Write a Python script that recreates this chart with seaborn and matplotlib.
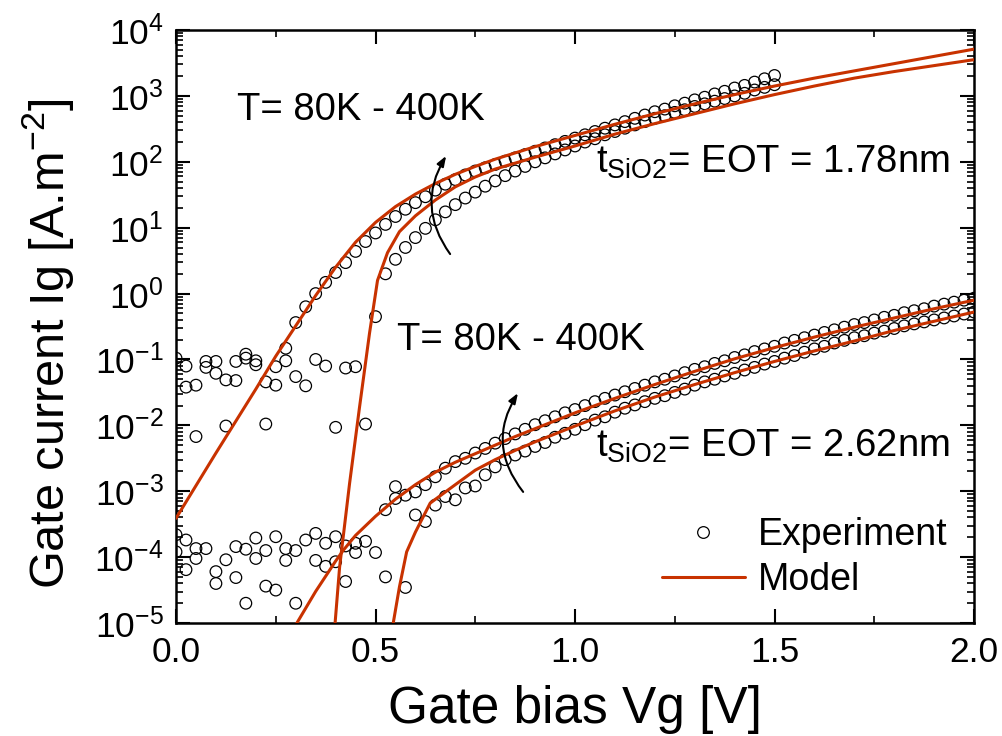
import numpy as np
import pandas as pd
import matplotlib
matplotlib.use("Agg")
import matplotlib.pyplot as plt
import seaborn as sns
from matplotlib.lines import Line2D
from matplotlib.ticker import LogLocator, LogFormatterMathtext, MultipleLocator, NullFormatter

# ---- data (log10 of Ig in A/m^2) ----
# experiment, tSiO2 = 1.78 nm
vg_hot_178 = np.linspace(0.275, 1.5, 50)
lg_hot_178 = [-0.83, -0.44, -0.20, 0.00, 0.17, 0.32, 0.47, 0.64, 0.79, 0.92,
              1.05, 1.17, 1.28, 1.38, 1.47, 1.57, 1.66, 1.73, 1.80, 1.86,
              1.91, 1.96, 2.01, 2.06, 2.11, 2.16, 2.21, 2.26, 2.31, 2.36,
              2.41, 2.46, 2.51, 2.56, 2.61, 2.66, 2.71, 2.76, 2.80, 2.85,
              2.89, 2.94, 2.98, 3.03, 3.07, 3.12, 3.16, 3.21, 3.26, 3.31]
vg_cold_178 = np.linspace(0.5, 1.5, 41)
lg_cold_178 = [-0.35, 0.30, 0.52, 0.70, 0.85, 0.99, 1.12, 1.24, 1.35, 1.45,
               1.54, 1.63, 1.71, 1.79, 1.86, 1.93, 2.00, 2.06, 2.12, 2.18,
               2.24, 2.30, 2.35, 2.41, 2.46, 2.51, 2.56, 2.61, 2.66, 2.70,
               2.75, 2.79, 2.84, 2.88, 2.92, 2.96, 3.00, 3.04, 3.09, 3.13, 3.17]
# noisy low-bias points, 1.78 nm
vg_noise_178 = [0.0, 0.025, 0.025, 0.05, 0.05, 0.075, 0.075, 0.1, 0.1, 0.125, 0.125, 0.15,
                0.15, 0.175, 0.175, 0.2, 0.2, 0.225, 0.225, 0.25, 0.25, 0.275, 0.3, 0.325,
                0.35, 0.375, 0.425, 0.45, 0.4, 0.475]
lg_noise_178 = [-0.98, -1.10, -1.42, -1.39, -2.17, -1.03, -1.12, -1.03, -1.21, -1.31, -2.01, -1.03,
                -1.32, -0.92, -0.98, -1.02, -1.08, -1.34, -1.98, -1.11, -1.39, -1.02, -1.26, -1.40,
                -1.00, -1.10, -1.13, -1.11, -2.03, -1.98]

# experiment, tSiO2 = 2.62 nm
vg_hot_262 = np.linspace(0.525, 2.0, 60)
lg_hot_262 = [-3.28, -3.11, -3.06, -3.01, -2.90, -2.78, -2.65, -2.55, -2.50, -2.42,
              -2.35, -2.27, -2.20, -2.13, -2.06, -1.99, -1.93, -1.87, -1.81, -1.76,
              -1.70, -1.64, -1.59, -1.54, -1.49, -1.44, -1.39, -1.34, -1.30, -1.25,
              -1.20, -1.15, -1.11, -1.06, -1.02, -0.97, -0.93, -0.88, -0.84, -0.80,
              -0.75, -0.71, -0.67, -0.63, -0.59, -0.55, -0.51, -0.47, -0.44, -0.40,
              -0.36, -0.33, -0.29, -0.26, -0.23, -0.19, -0.16, -0.13, -0.10, -0.07]
vg_cold_262 = np.linspace(0.6, 2.0, 57)
lg_cold_262 = [-3.36, -3.46, -3.21, -3.08, -3.13, -2.95, -2.92, -2.75, -2.63, -2.52,
               -2.45, -2.39, -2.32, -2.26, -2.18, -2.12, -2.06, -1.99, -1.92, -1.87,
               -1.80, -1.74, -1.69, -1.64, -1.59, -1.55, -1.50, -1.45, -1.39, -1.34,
               -1.30, -1.25, -1.21, -1.16, -1.12, -1.07, -1.03, -0.98, -0.94, -0.89,
               -0.84, -0.80, -0.75, -0.71, -0.67, -0.64, -0.60, -0.57, -0.53, -0.49,
               -0.46, -0.43, -0.40, -0.37, -0.34, -0.31, -0.28]
vg_noise_262 = [0.0, 0.0, 0.025, 0.025, 0.05, 0.05, 0.075, 0.1, 0.1, 0.125, 0.15, 0.15,
                0.175, 0.175, 0.2, 0.2, 0.225, 0.225, 0.25, 0.25, 0.275, 0.275, 0.3, 0.3,
                0.325, 0.35, 0.35, 0.375, 0.375, 0.4, 0.4, 0.425, 0.425, 0.45, 0.45, 0.475,
                0.5, 0.525, 0.575, 0.55]
lg_noise_262 = [-3.66, -3.92, -3.74, -4.19, -3.87, -4.02, -3.87, -4.22, -4.40, -4.04, -3.84, -4.31,
                -3.88, -4.70, -3.71, -4.02, -3.90, -4.44, -3.69, -4.50, -3.87, -4.05, -3.90, -4.70,
                -3.74, -3.64, -4.05, -3.79, -4.14, -3.69, -4.07, -3.83, -4.37, -3.93, -3.79, -3.76,
                -3.93, -4.30, -4.46, -2.93]

# model curves
vm_hot_178 = [0.0, 0.1, 0.2, 0.25, 0.3, 0.35, 0.4, 0.45, 0.5, 0.55, 0.6, 0.65, 0.7, 0.75, 0.8,
              0.9, 1.0, 1.1, 1.2, 1.3, 1.4, 1.5, 1.6, 1.7, 1.8, 1.9, 2.0]
lm_hot_178 = [-3.41, -2.42, -1.45, -0.95, -0.49, -0.03, 0.40, 0.78, 1.08, 1.32, 1.51, 1.67, 1.81,
              1.93, 2.04, 2.23, 2.40, 2.57, 2.73, 2.88, 3.02, 3.15, 3.27, 3.38, 3.49, 3.60, 3.71]
vm_cold_178 = [0.398, 0.41, 0.435, 0.46, 0.485, 0.505, 0.53, 0.56, 0.6, 0.65, 0.7, 0.75, 0.8,
               0.9, 1.0, 1.1, 1.2, 1.3, 1.4, 1.5, 1.6, 1.7, 1.8, 1.9, 2.0]
lm_cold_178 = [-5.05, -4.15, -2.88, -1.72, -0.60, 0.20, 0.62, 0.94, 1.18, 1.42, 1.62, 1.77, 1.89,
               2.07, 2.24, 2.42, 2.58, 2.73, 2.88, 3.02, 3.15, 3.27, 3.37, 3.46, 3.55]
vm_hot_262 = [0.298, 0.35, 0.4, 0.42, 0.45, 0.5, 0.55, 0.6, 0.65, 0.7, 0.75, 0.8, 0.85, 0.9,
              0.95, 1.0, 1.1, 1.2, 1.3, 1.4, 1.5, 1.6, 1.7, 1.8, 1.9, 2.0]
lm_hot_262 = [-5.05, -4.52, -4.06, -3.89, -3.67, -3.38, -3.12, -2.90, -2.71, -2.56, -2.43, -2.30,
              -2.17, -2.05, -1.93, -1.81, -1.59, -1.38, -1.18, -0.99, -0.82, -0.66, -0.51, -0.37,
              -0.23, -0.10]
vm_cold_262 = [0.543, 0.56, 0.578, 0.6, 0.637, 0.7, 0.75, 0.8, 0.85, 0.9, 0.95, 1.0, 1.1, 1.2,
               1.3, 1.4, 1.5, 1.6, 1.7, 1.8, 1.9, 2.0]
lm_cold_262 = [-5.05, -4.45, -3.92, -3.62, -3.18, -2.90, -2.68, -2.52, -2.38, -2.25, -2.13, -2.01,
               -1.78, -1.57, -1.38, -1.20, -1.03, -0.87, -0.72, -0.56, -0.42, -0.28]

red = "#c83200"

# ---- tables ----
exp_df = pd.DataFrame({
    "vg": np.concatenate([vg_hot_178, vg_cold_178, vg_noise_178,
                          vg_hot_262, vg_cold_262, vg_noise_262]),
    "lg": np.concatenate([lg_hot_178, lg_cold_178, lg_noise_178,
                          lg_hot_262, lg_cold_262, lg_noise_262]),
})
exp_df["ig"] = 10.0 ** exp_df["lg"]

models = [(vm_hot_178, lm_hot_178), (vm_cold_178, lm_cold_178),
          (vm_hot_262, lm_hot_262), (vm_cold_262, lm_cold_262)]

# ---- style ----
sns.set_style("ticks")
plt.rcParams["font.family"] = ["Liberation Sans", "DejaVu Sans"]
plt.rcParams["mathtext.fontset"] = "custom"
plt.rcParams["mathtext.rm"] = "Liberation Sans"
plt.rcParams["mathtext.it"] = "Liberation Sans:italic"
plt.rcParams["mathtext.default"] = "regular"
plt.rcParams["axes.unicode_minus"] = False
for key in ["text.color", "axes.labelcolor", "xtick.color", "ytick.color", "axes.edgecolor"]:
    plt.rcParams[key] = "black"

fig = plt.figure(figsize=(10.03, 7.36), dpi=100)
ax = fig.add_axes([0.1755, 0.1535, 0.7956, 0.8057])

for vm, lm in models:
    mdf = pd.DataFrame({"vg": vm, "ig": 10.0 ** np.array(lm)})
    sns.lineplot(data=mdf, x="vg", y="ig", ax=ax, color=red, lw=2.2,
                 sort=False, estimator=None, zorder=3)

sns.scatterplot(data=exp_df, x="vg", y="ig", ax=ax, marker="o", s=70,
                color="black", facecolor="none", edgecolor="black",
                linewidth=0.9, zorder=2)

ax.set_yscale("log")
ax.set_xlim(0, 2.0)
ax.set_ylim(1e-5, 1e4)
ax.xaxis.set_major_locator(MultipleLocator(0.5))
ax.xaxis.set_minor_locator(MultipleLocator(0.25))
ax.xaxis.set_major_formatter(plt.FormatStrFormatter("%.1f"))
ax.yaxis.set_major_locator(LogLocator(base=10, numticks=20))
ax.yaxis.set_minor_locator(LogLocator(base=10, subs=np.arange(2, 10), numticks=20))
ax.yaxis.set_major_formatter(LogFormatterMathtext())
ax.yaxis.set_minor_formatter(NullFormatter())
ax.tick_params(which="both", direction="in", top=True, right=True, labelsize=25.5)
ax.tick_params(which="major", length=10, width=1.5, pad=9)
ax.tick_params(which="minor", length=5, width=1.2)
for sp in ax.spines.values():
    sp.set_linewidth(1.8)

ax.set_xlabel("Gate bias Vg [V]", fontsize=37, labelpad=12)
ax.set_ylabel("Gate current Ig [A.m$^{-2}$]", fontsize=35)
ax.yaxis.set_label_coords(-0.125, 0.47)

ax.text(0.153, 10 ** 2.79, "T= 80K - 400K", fontsize=27.5, va="center", ha="left")
ax.text(0.554, 10 ** -0.70, "T= 80K - 400K", fontsize=27.5, va="center", ha="left")
ax.text(1.94, 10 ** 1.83, "t$_{SiO2}$= EOT = 1.78nm", fontsize=27.5, va="baseline", ha="right")
ax.text(1.94, 10 ** -2.48, "t$_{SiO2}$= EOT = 2.62nm", fontsize=27.5, va="baseline", ha="right")

arrow = dict(arrowstyle="-|>,head_length=0.6,head_width=0.22", color="black",
             lw=1.5, shrinkA=0, shrinkB=0)
ax.annotate("", xy=(0.677, 10 ** 2.09), xytext=(0.687, 10 ** 0.60),
            arrowprops=dict(arrow, connectionstyle="arc3,rad=-0.33"))
ax.annotate("", xy=(0.857, 10 ** -1.51), xytext=(0.870, 10 ** -3.01),
            arrowprops=dict(arrow, connectionstyle="arc3,rad=-0.35"))

handles = [Line2D([], [], ls="none", marker="o", ms=8.4, mfc="none", mec="black", mew=0.9),
           Line2D([], [], color=red, lw=2.2)]
ax.legend(handles, ["Experiment", "Model"], loc="upper left", bbox_to_anchor=(0.609, 0.178),
          frameon=False, fontsize=27, borderpad=0, borderaxespad=0, handlelength=2.2,
          handletextpad=0.35, labelspacing=0.22)

fig.savefig("out.png", dpi=100)
